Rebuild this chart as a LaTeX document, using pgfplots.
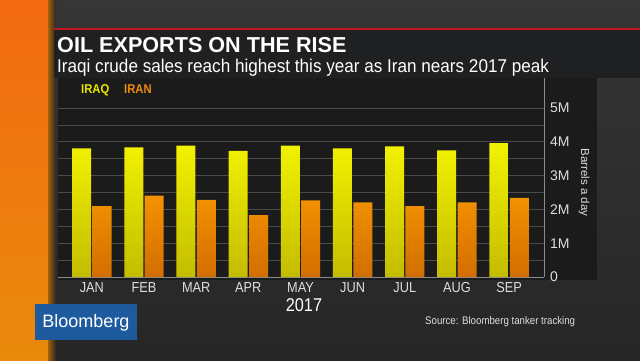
\documentclass[border=0pt]{standalone}
\usepackage{pgfplots}
\pgfplotsset{compat=1.18}
\usepackage{fontspec}
\setmainfont{Liberation Sans}
\newfontfamily\cond[FakeStretch=0.88]{Liberation Sans}
\newfontfamily\condsub[FakeStretch=0.925]{Liberation Sans}
\definecolor{bgTop}{HTML}{363636}
\definecolor{bgBot}{HTML}{262626}
\definecolor{orT}{HTML}{F26A12}
\definecolor{orB}{HTML}{E98A0C}
\definecolor{titlebox}{HTML}{1F2022}
\definecolor{panel}{HTML}{1B1B1B}
\definecolor{redline}{HTML}{C8161E}
\definecolor{iraqT}{HTML}{F2F200}
\definecolor{iraqB}{HTML}{C4BC00}
\definecolor{iranT}{HTML}{F39200}
\definecolor{iranB}{HTML}{D26E00}
\definecolor{iraqL}{HTML}{E6E600}
\definecolor{iranL}{HTML}{F08A10}
\definecolor{grid}{HTML}{4A4A4A}
\definecolor{axisc}{HTML}{8A8A8A}
\definecolor{lbl}{HTML}{DEDEDE}
\definecolor{bblue}{HTML}{1D5A9E}
\begin{document}
\begin{tikzpicture}[x=1pt,y=1pt]
\path[use as bounding box] (0,0) rectangle (640,360);
% background
\fill[top color=bgTop, bottom color=bgBot] (0,0) rectangle (640,360);
% orange strip
\fill[top color=orT, bottom color=orB] (0,0) rectangle (50,360);
\fill[left color=orB!70!black, right color=bgBot] (48,0) rectangle (56,360);
% title box
\fill[titlebox] (54,282) rectangle (640,330);
\fill[redline] (54,330) rectangle (640,332.5);
% chart panel
\fill[panel] (58,80) rectangle (597,282);
% titles
\node[anchor=base west, inner sep=0pt, text=white] at (57,308)
  {\fontsize{21.6}{21.6}\selectfont\bfseries OIL EXPORTS ON THE RISE};
\node[anchor=base west, inner sep=0pt, text=white] at (57,288)
  {\condsub\fontsize{18.5}{18.5}\selectfont Iraqi crude sales reach highest this year as Iran nears 2017 peak};
% legend
\node[anchor=base west, inner sep=0pt, text=iraqL] at (81,267)
  {\cond\fontsize{12.8}{12.8}\selectfont\bfseries IRAQ};
\node[anchor=base west, inner sep=0pt, text=iranL] at (124,267)
  {\cond\fontsize{12.8}{12.8}\selectfont\bfseries IRAN};
\begin{axis}[
  at={(58pt,83pt)}, anchor=south west,
  scale only axis, width=486pt, height=199pt,
  xmin=-0.65, xmax=8.67, ymin=0, ymax=5.89,
  axis x line*=bottom, axis y line*=right,
  axis line style={draw=axisc, line width=1pt},
  xtick={0,...,8},
  xticklabels={JAN,FEB,MAR,APR,MAY,JUN,JUL,AUG,SEP},
  ytick={0,1,2,3,4,5},
  yticklabels={0,1M,2M,3M,4M,5M},
  minor ytick={0.5,1.5,2.5,3.5,4.5},
  ymajorgrids, yminorgrids,
  major grid style={draw=grid, line width=0.9pt},
  minor grid style={draw=grid, line width=0.9pt},
  major tick length=0pt, minor tick length=0pt,
  tick style={draw=none},
  xticklabel style={text=lbl, font=\cond\fontsize{14.5}{14.5}\selectfont, anchor=base, yshift=-15pt},
  yticklabel style={text=lbl, font=\fontsize{14}{14}\selectfont, anchor=west, inner sep=0pt, xshift=6pt},
  clip=false,
]
\addplot[ybar, bar width=19pt, bar shift=-10.2pt, draw=none, top color=iraqT, bottom color=iraqB]
  coordinates {(0,3.81) (1,3.84) (2,3.89) (3,3.73) (4,3.89) (5,3.81) (6,3.87) (7,3.75) (8,3.96)};
\addplot[ybar, bar width=19pt, bar shift=10.2pt, draw=none, top color=iranT, bottom color=iranB]
  coordinates {(0,2.10) (1,2.41) (2,2.28) (3,1.83) (4,2.27) (5,2.21) (6,2.10) (7,2.21) (8,2.34)};
\end{axis}
% y axis title
\node[rotate=-90, text=lbl, inner sep=0pt] at (584,177.5)
  {\fontsize{11.5}{11.5}\selectfont Barrels a day};
% year
\node[anchor=base, inner sep=0pt, text=white] at (304,48.5)
  {\cond\fontsize{18.5}{18.5}\selectfont 2017};
% source
\node[anchor=base west, inner sep=0pt, text=lbl] at (425,36)
  {\cond\fontsize{11}{11}\selectfont Source: Bloomberg tanker tracking};
% Bloomberg logo
\fill[bblue] (35,20) rectangle (137,56);
\node[anchor=base, inner sep=0pt, text=white] at (86,33)
  {\fontsize{18}{18}\selectfont Bloomberg};
\end{tikzpicture}
\end{document}
